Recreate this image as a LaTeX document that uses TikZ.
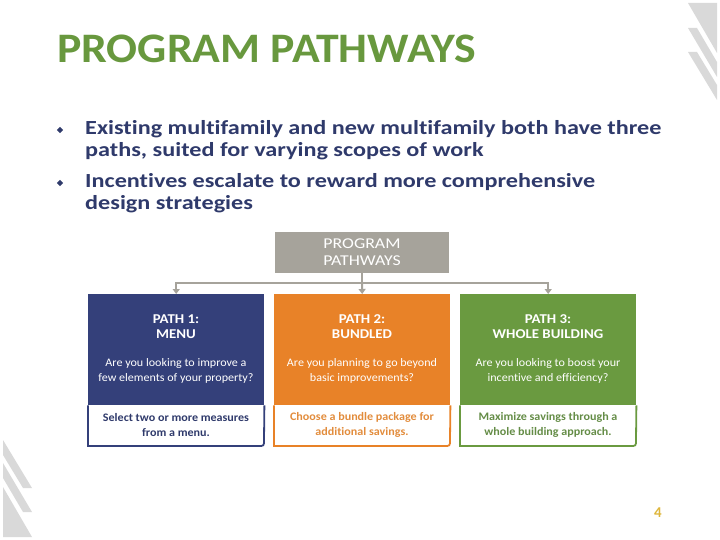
\documentclass[tikz,border=0pt]{standalone}
\usepackage{fontspec}
\setmainfont[Ligatures=NoCommon]{Carlito}
\newfontfamily\ftitle[FakeStretch=1.09,Ligatures=NoCommon]{Carlito}
\newfontfamily\fbullet[FakeStretch=1.21,Ligatures=NoCommon]{Carlito}
\newfontfamily\fhead[FakeStretch=1.1,Ligatures=NoCommon]{Carlito}
\newfontfamily\fask[FakeStretch=1.05,Ligatures=NoCommon]{Carlito}
\newfontfamily\ftop[FakeStretch=1.19,Ligatures=NoCommon]{Carlito}
\usetikzlibrary{arrows.meta,shapes.geometric}
\definecolor{titlegreen}{RGB}{104,152,62}
\definecolor{navytext}{RGB}{47,58,107}
\definecolor{navybox}{RGB}{52,64,122}
\definecolor{orangebox}{RGB}{232,130,40}
\definecolor{orangetext}{RGB}{226,140,60}
\definecolor{greenbox}{RGB}{106,154,64}
\definecolor{greentext}{RGB}{100,140,70}
\definecolor{graybox}{RGB}{166,163,155}
\definecolor{decogray}{RGB}{217,217,217}
\definecolor{pagegold}{RGB}{222,182,60}
\tikzset{
  bullettext/.style={anchor=base west, inner sep=0pt, text=navytext, font=\fbullet\fontsize{20}{22}\selectfont\bfseries},
  bulletmark/.style={diamond, fill=navytext, inner sep=0pt, minimum size=6.5pt},
  colbox/.style={minimum width=176pt, minimum height=111pt, inner sep=0pt, anchor=north west},
  headtext/.style={text=white, align=center, font=\fhead\fontsize{13.5}{15}\selectfont\bfseries, inner sep=0pt},
  asktext/.style={text=white, align=center, font=\fask\fontsize{11.5}{15}\selectfont, inner sep=0pt},
  whitetext/.style={align=center, font=\fask\fontsize{11.5}{15.5}\selectfont\bfseries, inner sep=0pt},
  conn/.style={draw=graybox, line width=2pt},
  connarrow/.style={conn, -{Triangle[width=7pt,length=5pt]}},
  deco/.style={fill=decogray}
}
\begin{document}
\begin{tikzpicture}[x=1pt,y=-1pt]
\useasboundingbox (0,0) rectangle (720,540);
% decorations
\fill[deco] (688,3) -- (717,3) -- (717,53) -- cycle;
\fill[deco] (688,28) -- (697,28) -- (717,62) -- (717,77) -- cycle;
\fill[deco] (688,52) -- (697,52) -- (717,85) -- (717,100) -- cycle;
\fill[deco] (3,440) -- (32,488) -- (23,488) -- (3,455) -- cycle;
\fill[deco] (3,463) -- (32,512) -- (23,512) -- (3,478) -- cycle;
\fill[deco] (3,487) -- (32,537) -- (3,537) -- cycle;
% title
\node[anchor=base west, inner sep=0pt, text=titlegreen, font=\ftitle\fontsize{42}{48}\selectfont\bfseries] (title) at (57,63) {PROGRAM PATHWAYS};
% bullets
\node[bulletmark] (b1) at (60,130) {};
\node[bullettext] (l1) at (85,135) {Existing multifamily and new multifamily both have three};
\node[bullettext] (l2) at (85,157) {paths, suited for varying scopes of work};
\node[bulletmark] (b2) at (60,183) {};
\node[bullettext] (l3) at (85,188) {Incentives escalate to reward more comprehensive};
\node[bullettext] (l4) at (85,210) {design strategies};
% top box
\node[fill=graybox, minimum width=174pt, minimum height=41pt, inner sep=0pt, text=white, align=center, font=\ftop\fontsize{15}{17}\selectfont] (top) at (362,252.5) {PROGRAM\\PATHWAYS};
% column boxes
\node[colbox, fill=navybox] (p1) at (88,294) {};
\node[colbox, fill=orangebox] (p2) at (274,294) {};
\node[colbox, fill=greenbox] (p3) at (460,294) {};
% white lower parts
\draw[navybox, line width=1.8pt] (p1.south west) -- (88,446) -- (258,446) .. controls (264,446) .. (264,440) -- (p1.south east);
\draw[orangebox, line width=1.8pt] (p2.south west) -- (274,446) -- (444,446) .. controls (450,446) .. (450,440) -- (p2.south east);
\draw[greenbox, line width=1.8pt] (p3.south west) -- (460,446) -- (630,446) .. controls (636,446) .. (636,440) -- (p3.south east);
% connectors
\coordinate (j) at (362,283);
\draw[conn] (top.south) -- (j);
\draw[connarrow] (j) -| (p1.north);
\draw[connarrow] (j) -- (p2.north);
\draw[connarrow] (j) -| (p3.north);
% texts
\node[headtext] (h1) at (176,327) {PATH 1:\\MENU};
\node[headtext] (h2) at (362,327) {PATH 2:\\BUNDLED};
\node[headtext] (h3) at (548,327) {PATH 3:\\WHOLE BUILDING};
\node[asktext] (q1) at (176,371) {Are you looking to improve a\\few elements of your property?};
\node[asktext] (q2) at (362,371) {Are you planning to go beyond\\basic improvements?};
\node[asktext] (q3) at (548,371) {Are you looking to boost your\\incentive and efficiency?};
\node[whitetext, text=navytext] (w1) at (176,425) {Select two or more measures\\from a menu.};
\node[whitetext, text=orangetext] (w2) at (362,425) {Choose a bundle package for\\additional savings.};
\node[whitetext, text=greentext] (w3) at (548,425) {Maximize savings through a\\whole building approach.};
% page number
\node[text=pagegold, font=\fontsize{15}{17}\selectfont\bfseries, inner sep=0pt] (pg) at (658,513) {4};
\end{tikzpicture}
\end{document}
